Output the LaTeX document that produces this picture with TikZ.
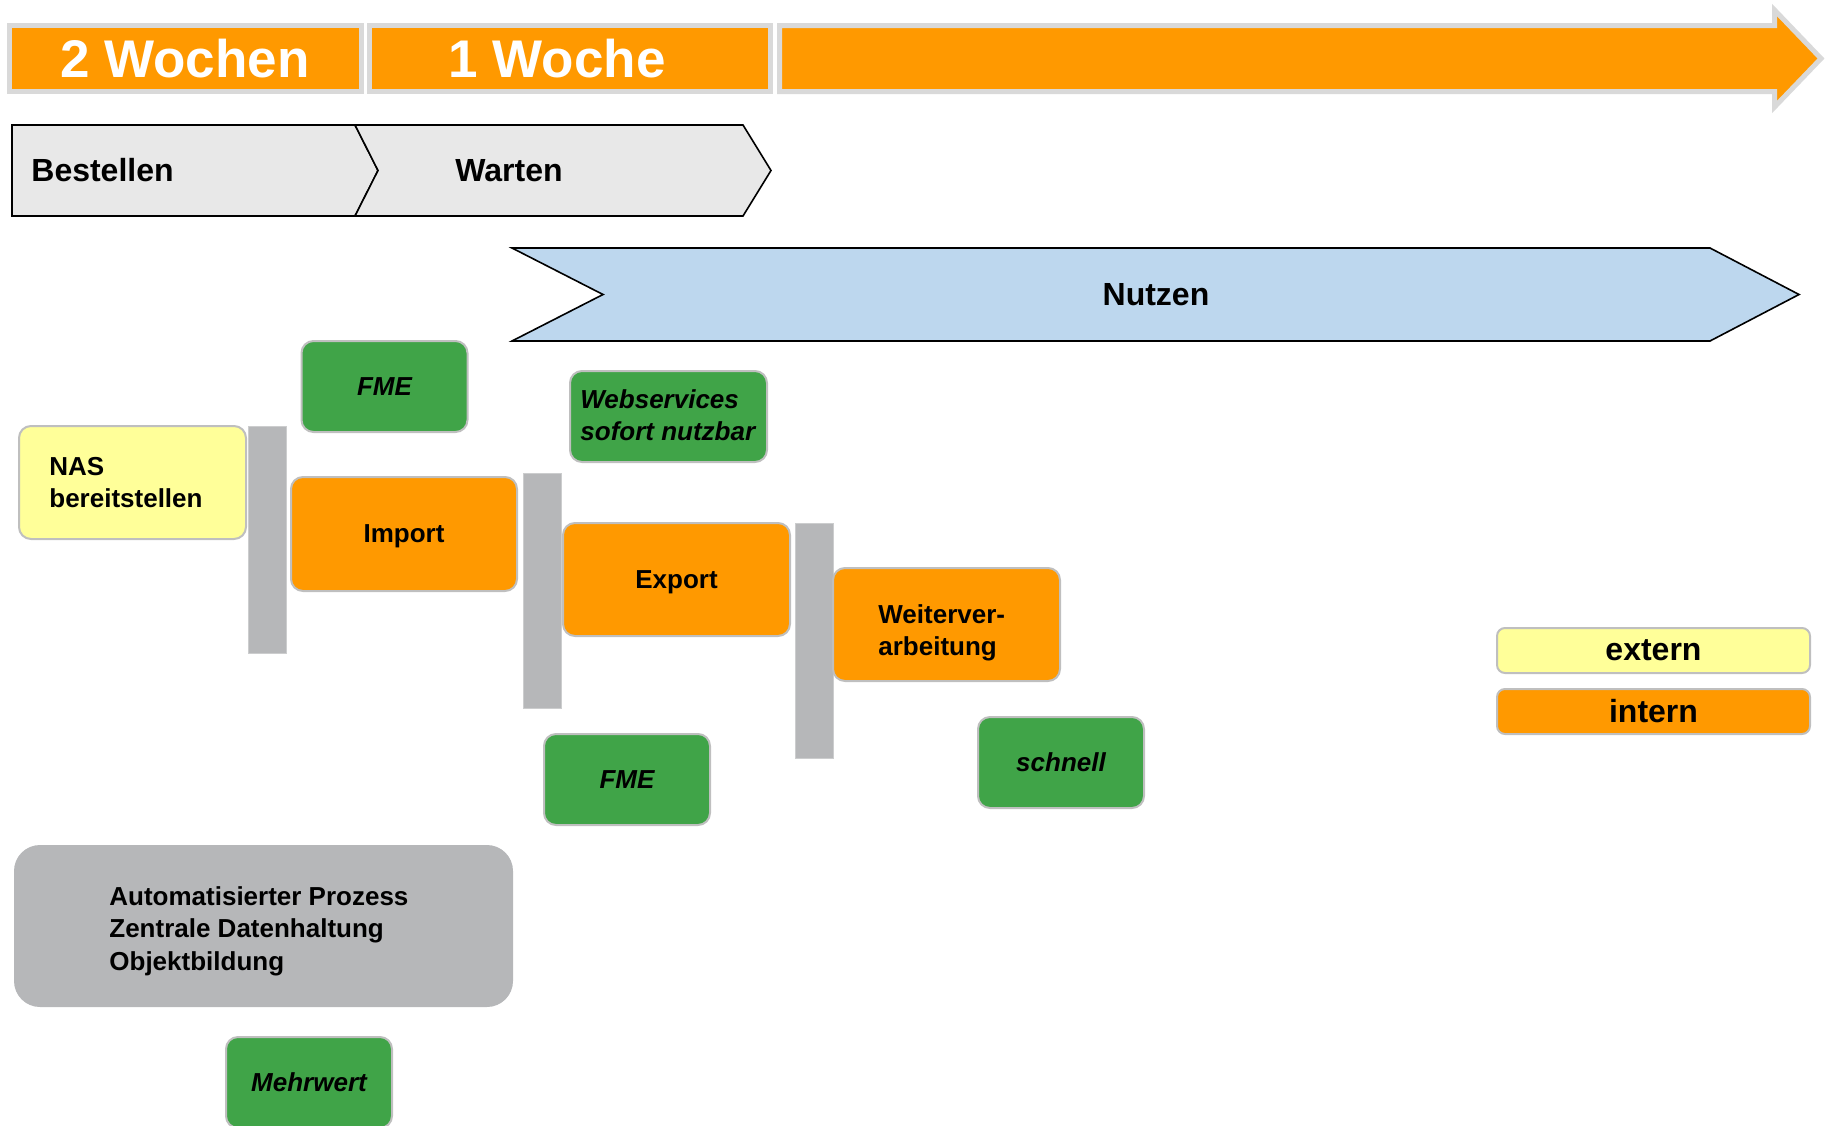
\documentclass[tikz,border=0pt]{standalone}
\usepackage{fontspec}
\setmainfont{Liberation Sans}
\definecolor{balken}{HTML}{FF9900}
\definecolor{barrand}{HTML}{D9D9D9}
\definecolor{phasegrau}{HTML}{E8E8E8}
\definecolor{nutzblau}{HTML}{BDD7EE}
\definecolor{gruen}{HTML}{40A448}
\definecolor{gelb}{HTML}{FFFF99}
\definecolor{steg}{HTML}{B6B7B9}
\definecolor{kastenrand}{HTML}{BFBFBF}
\tikzset{
  woche/.style={draw=barrand, line width=2.5pt, fill=balken},
  wochentext/.style={text=white, font=\bfseries\fontsize{26.5}{32}\selectfont, inner sep=0pt},
  phase/.style={draw=black, line width=0.8pt, fill=phasegrau, line join=miter},
  phasentext/.style={font=\bfseries\fontsize{16}{19}\selectfont, inner sep=0pt},
  kasten/.style={draw=kastenrand, line width=1pt, rounded corners=6pt, inner sep=0pt,
    align=center, font=\bfseries\fontsize{13}{16.3}\selectfont},
  kastentext/.style={anchor=west, inner sep=0pt, align=left, font=\bfseries\fontsize{13}{16.3}\selectfont},
  extbox/.style={kasten, fill=gelb},
  intbox/.style={kasten, fill=balken},
  vorteil/.style={kasten, fill=gruen, font=\bfseries\itshape\fontsize{13}{16.3}\selectfont,
    minimum width=83pt, minimum height=45.5pt},
  trenner/.style={draw=steg!70!white, line width=0.5pt, fill=steg, minimum width=19pt},
  legende/.style={kasten, rounded corners=4pt, minimum width=156.5pt, minimum height=22.5pt,
    font=\bfseries\fontsize{16}{19}\selectfont}
}
\begin{document}
\begin{tikzpicture}[x=0.5pt,y=-0.5pt]
\useasboundingbox (0,0) rectangle (1825,1125);
\draw[woche] (9.5,25.5) rectangle (361.5,91.5);
\draw[woche] (369.5,25.5) rectangle (770.5,91.5);
\draw[woche] (779.5,25.5) -- (1774.5,25.5) -- (1774.5,10) -- (1821,58.5) -- (1774.5,107) -- (1774.5,91.5) -- (779.5,91.5) -- cycle;
\node[wochentext] (zweiwochen) at (185,58.5) {2 Wochen};
\node[wochentext] (einewoche) at (557,58.5) {1 Woche};
\draw[phase] (12,125) -- (355,125) -- (378,170.5) -- (355,216) -- (12,216) -- cycle;
\draw[phase] (355,125) -- (743,125) -- (771,170.5) -- (743,216) -- (355,216) -- (378,170.5) -- cycle;
\node[phasentext, anchor=west] (bestellen) at (31,170.5) {Bestellen};
\node[phasentext] (warten) at (509,170.5) {Warten};
\draw[phase, fill=nutzblau] (512,248) -- (1710,248) -- (1799,294.5) -- (1710,341) -- (512,341) -- (603,294.5) -- cycle;
\node[phasentext] (nutzen) at (1156,294.5) {Nutzen};
\node[vorteil] (fmeimport) at (384.5,386.5) {FME};
\node[extbox, minimum width=113.5pt, minimum height=56.5pt] (nas) at (132.5,482.5) {};
\node[kastentext] (nastext) at (49,482.5) {NAS\\bereitstellen};
\node[trenner, minimum height=113.5pt] (steg1) at (267,539.5) {};
\node[intbox, minimum width=113pt, minimum height=57pt, text depth=0pt] (import) at (404,534) {Import};
\node[trenner, minimum height=117.5pt] (steg2) at (542,590.5) {};
\node[vorteil, minimum width=98.5pt] (webservices) at (668.5,416.5) {};
\node[kastentext, font=\bfseries\itshape\fontsize{13}{16.3}\selectfont] (webtext) at (580,415) {Webservices\\sofort nutzbar};
\node[intbox, minimum width=113.5pt, minimum height=56.5pt, text depth=0pt] (export) at (676.5,579.5) {Export};
\node[trenner, minimum height=117.5pt] (steg3) at (814,640.5) {};
\node[intbox, minimum width=113.5pt, minimum height=56.5pt] (weiter) at (946.5,624.5) {};
\node[kastentext] (weitertext) at (878,633) {Weiterver-\\arbeitung};
\node[vorteil] (fmeexport) at (627,779.5) {FME};
\node[vorteil] (schnell) at (1061,762.5) {schnell};
\node[kasten, draw=none, fill=steg, rounded corners=13pt, minimum width=249.5pt, minimum height=81pt] (prozess) at (263.5,926) {};
\node[kastentext] (prozesstext) at (109,931) {Automatisierter Prozess\\Zentrale Datenhaltung\\Objektbildung};
\node[vorteil] (mehrwert) at (309,1082.5) {Mehrwert};
\node[legende, fill=gelb] (extern) at (1653.5,650.5) {extern};
\node[legende, fill=balken] (intern) at (1653.5,711.5) {intern};
\end{tikzpicture}
\end{document}
